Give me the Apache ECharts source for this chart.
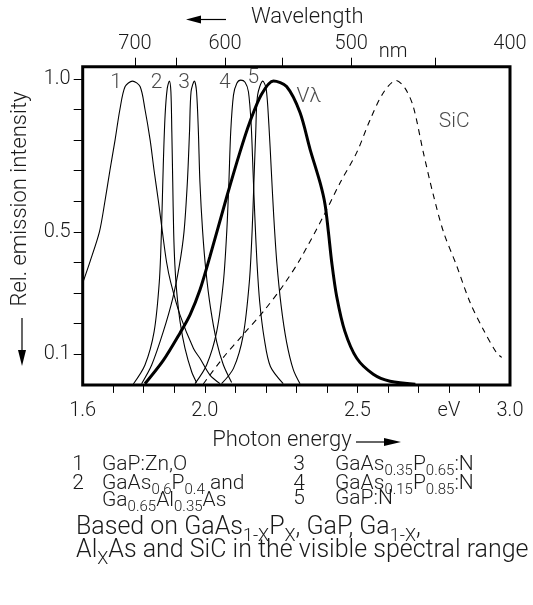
<!DOCTYPE html>
<html>
<head>
<meta charset="utf-8">
<script src="https://cdn.jsdelivr.net/npm/echarts@6/dist/echarts.min.js"></script>
<style>
html,body{margin:0;padding:0;background:#fff;}
#chart{width:533px;height:605px;}
</style>
</head>
<body>
<div id="chart"></div>
<script>
// ---- data (photon energy in eV, relative intensity) ----
const c1E = [1.600, 1.624, 1.655, 1.673, 1.689, 1.706, 1.722, 1.739, 1.763, 1.788, 1.804, 1.821, 1.834, 1.848, 1.861, 1.875, 1.888, 1.919, 1.963, 1.984, 2.017, 2.050];
const c1V = [0.333, 0.403, 0.501, 0.601, 0.700, 0.800, 0.901, 0.975, 0.993, 0.975, 0.901, 0.800, 0.700, 0.601, 0.501, 0.400, 0.337, 0.228, 0.119, 0.087, 0.032, 0.004];

const c2E = [1.766, 1.804, 1.834, 1.851, 1.858, 1.864, 1.870, 1.877, 1.884, 1.889, 1.892, 1.895, 1.898, 1.902, 1.908, 1.919, 1.935, 1.957, 1.973];
const c2V = [0.003, 0.065, 0.174, 0.337, 0.501, 0.719, 0.882, 0.969, 0.993, 0.958, 0.828, 0.664, 0.501, 0.392, 0.305, 0.207, 0.120, 0.043, 0.008];

const c3E = [1.793, 1.826, 1.864, 1.895, 1.917, 1.932, 1.943, 1.950, 1.955, 1.966, 1.973, 1.979, 1.984, 1.993, 2.004, 2.019, 2.039, 2.061, 2.088];
const c3V = [0.004, 0.065, 0.174, 0.283, 0.392, 0.501, 0.664, 0.828, 0.958, 0.993, 0.958, 0.828, 0.664, 0.501, 0.370, 0.250, 0.141, 0.065, 0.008];

const c4E = [1.968, 2.006, 2.039, 2.061, 2.072, 2.079, 2.085, 2.094, 2.105, 2.118, 2.132, 2.143, 2.152, 2.158, 2.164, 2.171, 2.180, 2.195, 2.215, 2.257];
const c4V = [0.004, 0.065, 0.174, 0.337, 0.501, 0.664, 0.828, 0.947, 0.986, 0.996, 0.989, 0.958, 0.850, 0.700, 0.550, 0.400, 0.270, 0.150, 0.060, 0.004];

const c5E = [2.055, 2.094, 2.126, 2.146, 2.155, 2.161, 2.167, 2.173, 2.190, 2.201, 2.210, 2.218, 2.226, 2.236, 2.250, 2.268, 2.290, 2.312];
const c5V = [0.004, 0.054, 0.163, 0.337, 0.501, 0.664, 0.828, 0.947, 0.993, 0.969, 0.850, 0.700, 0.550, 0.400, 0.260, 0.140, 0.050, 0.004];

const vlE = [1.804, 1.864, 1.919, 1.952, 1.984, 2.017, 2.072, 2.115, 2.148, 2.186, 2.225, 2.268, 2.312, 2.345, 2.378, 2.394, 2.405, 2.416, 2.432, 2.459, 2.498, 2.552, 2.607, 2.690];
const vlV = [0.004, 0.080, 0.170, 0.230, 0.310, 0.420, 0.615, 0.760, 0.860, 0.950, 0.993, 0.975, 0.890, 0.770, 0.660, 0.590, 0.500, 0.400, 0.290, 0.175, 0.087, 0.035, 0.012, 0.002];

const sicE = [1.995, 2.061, 2.126, 2.192, 2.257, 2.312, 2.388, 2.443, 2.498, 2.541, 2.585, 2.627, 2.656, 2.683, 2.716, 2.749, 2.782, 2.825, 2.869, 2.913, 2.956, 2.973];
const sicV = [0.003, 0.090, 0.165, 0.240, 0.325, 0.410, 0.550, 0.660, 0.760, 0.865, 0.955, 0.995, 0.970, 0.910, 0.760, 0.620, 0.500, 0.390, 0.270, 0.180, 0.105, 0.090];

// curve labels
const curveLabelText = ['1', '2', '3', '4', '5', 'Vλ', 'SiC'];
const curveLabelE = [1.709, 1.842, 1.932, 2.066, 2.159, 2.341, 2.817];
const curveLabelV = [0.986, 0.986, 0.986, 0.986, 1.003, 0.942, 0.860];

// axes
const energyTicks = [1.7, 1.8, 1.9, 2.0, 2.1, 2.2, 2.3, 2.4, 2.5, 2.6, 2.7, 2.8, 2.9];
const energyLabelValues = [1.6, 2.0, 2.5, 2.8, 3.0];
const energyLabelText = ['1.6', '2.0', '2.5', 'eV', '3.0'];
const yTicks = [0.1, 0.2, 0.3, 0.4, 0.5, 0.6, 0.7, 0.8, 0.9, 1.0];
const yLabelValues = [0.1, 0.5, 1.0];
const nmTicks = [700, 650, 600, 550, 500, 450];
const nmLabels = [700, 600, 500, 400];

// ---- chart ----
const HC = 1239.84;
const FONT = 'Roboto, "Liberation Sans", Arial, sans-serif';
const FW = 300;
const TXT = '#1a1a1a';
const EMAX = 3.0;
const nmLabelE = nmLabels.map(l => Math.min(HC / l, EMAX));

function pairs(xs, ys) { return xs.map((x, i) => [x, ys[i]]); }
function thin(name, xs, ys) {
  return { name, type: 'line', data: pairs(xs, ys), showSymbol: false, smooth: 0.3,
    lineStyle: { color: '#000', width: 1.1 }, z: 3, silent: true };
}

const chart = echarts.init(document.getElementById('chart'), null, { renderer: 'canvas' });
const baseText = { fontFamily: FONT, fontWeight: FW, color: TXT };

const option = {
  animation: false,
  backgroundColor: '#fff',
  grid: { left: 82.7, top: 66.7, right: 23, bottom: 220.1, show: true,
    borderColor: '#000', borderWidth: 3, backgroundColor: 'transparent' },
  xAxis: [
    { type: 'value', position: 'bottom', min: 1.6, max: 3.0,
      axisLine: { show: false }, splitLine: { show: false },
      axisTick: { show: true, inside: false, length: 8, lineStyle: { color: '#000', width: 1 }, customValues: energyTicks },
      axisLabel: Object.assign({ customValues: energyLabelValues, margin: 16, fontSize: 20,
        formatter: v => { const i = energyLabelValues.findIndex(e => Math.abs(e - v) < 1e-6); return i >= 0 ? energyLabelText[i] : ''; } }, baseText) },
    { type: 'value', position: 'top', min: 1.6, max: 3.0,
      axisLine: { show: false }, splitLine: { show: false },
      axisTick: { show: true, inside: false, length: 9, lineStyle: { color: '#000', width: 1 }, customValues: nmTicks.map(l => HC / l) },
      axisLabel: Object.assign({ customValues: nmLabelE, margin: 13, fontSize: 20,
        formatter: v => { let best = 0; nmLabelE.forEach((e, i) => { if (Math.abs(e - v) < Math.abs(nmLabelE[best] - v)) best = i; }); return String(nmLabels[best]); } }, baseText) }
  ],
  yAxis: [{ type: 'value', min: 0, max: 1.04,
    axisLine: { show: false }, splitLine: { show: false },
    axisTick: { show: true, inside: false, length: 9, lineStyle: { color: '#000', width: 1 }, customValues: yTicks },
    axisLabel: Object.assign({ customValues: yLabelValues, margin: 12, fontSize: 20, formatter: v => v.toFixed(1) }, baseText) }],
  series: [
    thin('1', c1E, c1V),
    thin('2', c2E, c2V),
    thin('3', c3E, c3V),
    thin('4', c4E, c4V),
    thin('5', c5E, c5V),
    { name: 'Vλ', type: 'line', data: pairs(vlE, vlV), showSymbol: false, smooth: 0.3,
      lineStyle: { color: '#000', width: 3 }, z: 4, silent: true },
    { name: 'SiC', type: 'line', data: pairs(sicE, sicV), showSymbol: false, smooth: 0.3,
      lineStyle: { color: '#000', width: 1.1, type: [6, 5] }, z: 3, silent: true },
    { name: 'labels', type: 'scatter', symbolSize: 1, itemStyle: { color: 'transparent' }, z: 6, silent: true,
      data: curveLabelText.map((t, i) => ({ name: t, value: [curveLabelE[i], curveLabelV[i]] })),
      label: Object.assign({ show: true, position: 'inside', fontSize: 21, formatter: p => p.name }, baseText) }
  ],
  graphic: []
};

const sub = { fontSize: 15, lineHeight: 15, padding: [12, 0, 0, 0], fontFamily: FONT, fontWeight: FW, fill: TXT };
const nor = { fontSize: 21, lineHeight: 21, fontFamily: FONT, fontWeight: FW, fill: TXT };
const sub2 = { fontSize: 18, lineHeight: 18, padding: [17, 0, 0, 0], fontFamily: FONT, fontWeight: FW, fill: TXT };
const nor2 = { fontSize: 25, lineHeight: 25, fontFamily: FONT, fontWeight: FW, fill: TXT };

function txt(x, y, text, size, align, extra) {
  return Object.assign({ type: 'text', x, y, z: 10, silent: true,
    style: { text, fontSize: size, fontFamily: FONT, fontWeight: FW, fill: TXT, textAlign: align || 'left', textVerticalAlign: 'middle' } }, extra || {});
}
function rtxt(x, y, text, big) {
  return { type: 'text', x, y, z: 10, silent: true,
    style: { text, rich: big ? { n: nor2, s: sub2 } : { n: nor, s: sub }, textAlign: 'left', textVerticalAlign: 'middle' } };
}

option.graphic = [
  // top axis title with arrow
  txt(251, 17, 'Wavelength', 22),
  { type: 'line', silent: true, shape: { x1: 199, y1: 19.5, x2: 226, y2: 19.5 }, style: { stroke: '#000', lineWidth: 1.2 } },
  { type: 'polygon', silent: true, shape: { points: [[186, 19.5], [201, 15.5], [201, 23.5]] }, style: { fill: '#000' } },
  txt(393, 52, 'nm', 20, 'center'),
  // bottom axis title with arrow
  txt(282, 440, 'Photon energy', 22, 'center'),
  { type: 'line', silent: true, shape: { x1: 356, y1: 442, x2: 386, y2: 442 }, style: { stroke: '#000', lineWidth: 1.2 } },
  { type: 'polygon', silent: true, shape: { points: [[401, 442], [384, 438], [384, 446]] }, style: { fill: '#000' } },
  // y axis title with arrow
  txt(20, 199, 'Rel. emission intensity', 22, 'center', { rotation: Math.PI / 2 }),
  { type: 'line', silent: true, shape: { x1: 22, y1: 318, x2: 22, y2: 352 }, style: { stroke: '#000', lineWidth: 1.2 } },
  { type: 'polygon', silent: true, shape: { points: [[22, 366], [18, 350], [26, 350]] }, style: { fill: '#000' } },
  // key
  txt(78, 465, '1', 21, 'center'),
  rtxt(102, 465, '{n|GaP:Zn,O}'),
  txt(78, 484, '2', 21, 'center'),
  rtxt(102, 484, '{n|GaAs}{s|0.6}{n|P}{s|0.4}{n| and}'),
  rtxt(102, 501, '{n|Ga}{s|0.65}{n|Al}{s|0.35}{n|As}'),
  txt(299, 465, '3', 21, 'center'),
  rtxt(335, 465, '{n|GaAs}{s|0.35}{n|P}{s|0.65}{n|:N}'),
  txt(299, 484, '4', 21, 'center'),
  rtxt(335, 484, '{n|GaAs}{s|0.15}{n|P}{s|0.85}{n|:N}'),
  txt(299, 499, '5', 21, 'center'),
  rtxt(335, 499, '{n|GaP:N}'),
  // caption
  rtxt(76, 528, '{n|Based on GaAs}{s|1-X}{n|P}{s|X}{n|, GaP, Ga}{s|1-X}{n|,}', true),
  rtxt(76, 551, '{n|Al}{s|X}{n|As and SiC in the visible spectral range}', true)
];

chart.setOption(option);
</script>
</body>
</html>
